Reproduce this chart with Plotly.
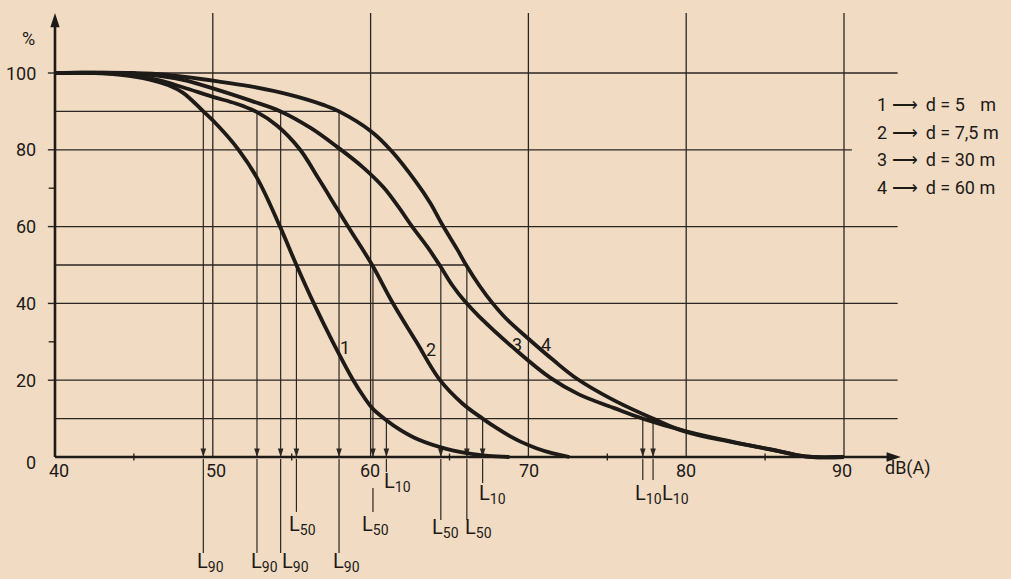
import plotly.graph_objects as go

# ---------------- data ----------------
C1_X = [40, 42.5, 44, 46.0, 47.2, 48.1, 49.4, 50.3, 51.6, 52.8, 54.26, 55.3, 56.4, 57.6, 58.9,
        59.6, 60.13, 61.0, 61.9, 63.1, 64.8, 66.0, 67.0, 68.0, 68.8]
C1_Y = [100, 100, 99.6, 98.3, 96.8, 94.9, 90, 86.4, 80.2, 72.7, 60, 50, 40, 30, 20,
        15.5, 12.6, 9.6, 7.0, 4.4, 2.1, 1.1, 0.5, 0.15, 0]

C2_X = [40, 43, 45, 46.5, 48.1, 50, 51.5, 52.8, 54.1, 55.5, 56.7, 57.9, 58.7, 60.1, 61.35,
        62.9, 64.4, 65.8, 67.1, 68.0, 68.8, 69.5, 70.5, 71.5, 72.6]
C2_Y = [100, 100, 99.4, 98.2, 96.3, 93.8, 92.0, 89.8, 86.2, 80.2, 72.5, 64.5, 59.2, 50, 40.5,
        30, 20, 14.0, 10, 7.5, 5.5, 4.0, 2.3, 1.0, 0]

C3_X = [40, 44, 46, 48.1, 50, 52.4, 54.3, 56.2, 57.9, 59.5, 60.8, 61.7, 62.6, 63.6, 64.4,
        65.2, 66.0, 66.9, 69.0, 71.4, 73.2, 75.4, 77.25, 80, 83, 85.8, 87.0, 88, 90]
C3_Y = [100, 100, 99.5, 98.2, 96.0, 92.8, 90, 85.7, 80.7, 75.5, 70.3, 65.5, 60.2, 54.7, 49.8,
        44.6, 40.4, 36.5, 28.6, 20.6, 16.3, 12.8, 10, 6.7, 3.9, 1.6, 0.5, 0, 0]

C4_X = [40, 45, 47, 50, 52.4, 54.9, 57.0, 58.0, 60.1, 61.3, 62.9, 63.8, 64.5, 65.5, 66.05,
        66.9, 67.7, 68.6, 70.0, 71.5, 73.1, 75.4, 77.9, 80, 83, 85.8, 87.0, 88, 90]
C4_Y = [100, 100, 99.6, 98.0, 96.5, 94.3, 91.7, 90, 84.6, 79.8, 71.5, 66.0, 60.8, 54.0, 50,
        44.6, 40.2, 36.0, 30.8, 25.5, 20.3, 14.8, 10, 6.5, 3.8, 1.6, 0.5, 0, 0]

CURVES_X = [C1_X, C2_X, C3_X, C4_X]
CURVES_Y = [C1_Y, C2_Y, C3_Y, C4_Y]
CURVE_NAMES = ["1", "2", "3", "4"]
CURVE_LABEL_X = [58.4, 63.8, 69.3, 71.1]
CURVE_LABEL_Y = [28.4, 27.9, 29.2, 29.2]

L90 = [49.4, 52.8, 54.3, 58.0]
L50 = [55.3, 60.15, 64.45, 66.1]
L10 = [61.0, 67.1, 77.25, 77.9]
LEVELS = {"90": 90, "50": 50, "10": 10}

X_TICKS = [40, 50, 60, 70, 80, 90]
X_MINOR = [45, 55, 65, 75, 85]
Y_TICKS = [0, 20, 40, 60, 80, 100]
Y_MINOR = [30, 70]
H_LINES_FULL = [100, 60, 40, 20, 10]
H_LINE_80 = 80

LEGEND_TEXT = ["1 \u27f6 \u2009d = 5\u2009\u2009\u2009 m", "2 \u27f6 \u2009d = 7,5 m",
               "3 \u27f6 \u2009d = 30 m", "4 \u27f6 \u2009d = 60 m"]

# ---------------- styling / geometry ----------------
BG = "#f1dcc3"
INK = "#1d1a17"
GRID = "#2b2622"
FONT = "Roboto"

X_MIN, X_MAX = 36.515, 100.583
Y_MIN, Y_MAX = -31.77, 119.01
X_AXIS_END = 93.6
Y_AXIS_TOP = 115.6
GRID_RIGHT = 93.4
GRID_80_RIGHT = 90.5
TICK_LEFT = 39.55

fig = go.Figure()
shapes = []


def seg(x0, y0, x1, y1, w=1.3, color=GRID):
    shapes.append(dict(type="line", xref="x", yref="y", x0=x0, y0=y0, x1=x1, y1=y1,
                       line=dict(color=color, width=w), layer="below"))


# horizontal grid lines
for v in H_LINES_FULL:
    seg(40, v, GRID_RIGHT, v)
seg(40, H_LINE_80, GRID_80_RIGHT, H_LINE_80)
# construction lines at 90 % and 50 %
seg(40, LEVELS["90"], max(L90), LEVELS["90"])
seg(40, LEVELS["50"], max(L50), LEVELS["50"])
# vertical grid lines
for v in X_TICKS[1:]:
    seg(v, 0, v, Y_AXIS_TOP)
# y ticks
for v in Y_TICKS[1:]:
    seg(TICK_LEFT, v, 40, v, w=1.4)
for v in Y_MINOR:
    seg(TICK_LEFT + 0.05, v, 40, v, w=1.4)
for v in X_MINOR:
    seg(v, -0.9, v, 0.9, w=1.4)

# L drop lines (from the level down to the axis)
for arr, key in ((L90, "90"), (L50, "50"), (L10, "10")):
    for xv in arr:
        seg(xv, LEVELS[key], xv, 0, w=1.2)

# below-axis parts of the L lines
BELOW_90 = [(-0.5, -25.0)] * 4
BELOW_50 = [(-0.5, -14.3), (-8.1, -14.3), (-0.5, -16.4), (-0.5, -16.4)]
BELOW_10 = [(-0.5, -3.9), (-0.5, -6.8), (-0.5, -6.0), (-0.5, -6.0)]
for arr, below in ((L90, BELOW_90), (L50, BELOW_50), (L10, BELOW_10)):
    for xv, (a, b) in zip(arr, below):
        seg(xv, a, xv, b, w=1.2)

# arrow heads on the axis
ALL_L = L90 + L50 + L10
fig.add_trace(go.Scatter(x=ALL_L, y=[0] * len(ALL_L), mode="markers",
                         marker=dict(symbol="arrow", size=9, angle=180, color=GRID,
                                     line=dict(width=0)),
                         hoverinfo="skip", showlegend=False, cliponaxis=False))

# axes
seg(40, 0, X_AXIS_END - 0.6, 0, w=2.6, color=INK)
seg(40, 0, 40, Y_AXIS_TOP - 2.5, w=2.6, color=INK)
fig.add_trace(go.Scatter(x=[40], y=[Y_AXIS_TOP], mode="markers",
                         marker=dict(symbol="arrow", size=15, angle=0, color=INK,
                                     line=dict(width=0)),
                         hoverinfo="skip", showlegend=False, cliponaxis=False))
fig.add_trace(go.Scatter(x=[X_AXIS_END], y=[0], mode="markers",
                         marker=dict(symbol="arrow", size=15, angle=90, color=INK,
                                     line=dict(width=0)),
                         hoverinfo="skip", showlegend=False, cliponaxis=False))

# curves
for cx, cy in zip(CURVES_X, CURVES_Y):
    fig.add_trace(go.Scatter(x=cx, y=cy, mode="lines",
                             line=dict(color=INK, width=3.8, shape="spline", smoothing=1.1),
                             hoverinfo="skip", showlegend=False))

ann = []
# L labels
L_FONT = dict(family=FONT, size=20, color=INK)
L90_SHIFT, L90_Y = [-8, -8, -1, -8], [-27.4] * 4
L50_SHIFT, L50_Y = [-9, -13, -11, -4], [-17.8, -17.8, -18.6, -18.6]
L10_SHIFT, L10_Y = [-4, -6, -10, 7], [-6.4, -9.6, -9.6, -9.6]
for arr, key, shifts, ys in ((L90, "90", L90_SHIFT, L90_Y), (L50, "50", L50_SHIFT, L50_Y),
                             (L10, "10", L10_SHIFT, L10_Y)):
    for xv, sh, yv in zip(arr, shifts, ys):
        ann.append(dict(x=xv, y=yv, xref="x", yref="y", text="L<sub>%s</sub>" % key,
                        showarrow=False, xanchor="left", yanchor="middle", xshift=sh,
                        font=L_FONT))

TICK_FONT = dict(family=FONT, size=18, color=INK)
X_LABEL_SHIFT = [4, 3, -1, 1, 0, -2]
for v, sh in zip(X_TICKS, X_LABEL_SHIFT):
    ann.append(dict(x=v, y=-3.6, xref="x", yref="y", text=str(v), showarrow=False,
                    xanchor="center", yanchor="middle", xshift=sh, font=TICK_FONT))
for v in Y_TICKS:
    ann.append(dict(x=38.92, y=v, xref="x", yref="y", text=str(v), showarrow=False,
                    xanchor="right", yanchor="middle", yshift=(-5 if v == 0 else 0),
                    font=TICK_FONT))
ann.append(dict(x=38.3, y=108.9, xref="x", yref="y", text="%", showarrow=False,
                xanchor="center", yanchor="middle", font=TICK_FONT))
ann.append(dict(x=94.06, y=-2.9, xref="x", yref="y", text="dB(A)", showarrow=False,
                xanchor="center", yanchor="middle", font=dict(family=FONT, size=18, color=INK)))

for name, lx, ly in zip(CURVE_NAMES, CURVE_LABEL_X, CURVE_LABEL_Y):
    ann.append(dict(x=lx, y=ly, xref="x", yref="y", text=name, showarrow=False,
                    xanchor="center", yanchor="middle", font=TICK_FONT))

LEG_X, LEG_Y0, LEG_STEP = 91.97, 91.7, 7.15
for i, t in enumerate(LEGEND_TEXT):
    ann.append(dict(x=LEG_X, y=LEG_Y0 - i * LEG_STEP, xref="x", yref="y", text=t,
                    showarrow=False, xanchor="left", yanchor="middle",
                    font=dict(family=FONT, size=18, color=INK)))

fig.update_layout(
    width=1011, height=579,
    margin=dict(l=0, r=0, t=0, b=0),
    paper_bgcolor=BG, plot_bgcolor=BG,
    shapes=shapes, annotations=ann,
    xaxis=dict(range=[X_MIN, X_MAX], visible=False, fixedrange=True),
    yaxis=dict(range=[Y_MIN, Y_MAX], visible=False, fixedrange=True),
    showlegend=False,
)
fig.write_html("out.html", config={"displayModeBar": False},
               post_script="document.body.style.margin='0';document.body.style.background='%s';" % BG)
